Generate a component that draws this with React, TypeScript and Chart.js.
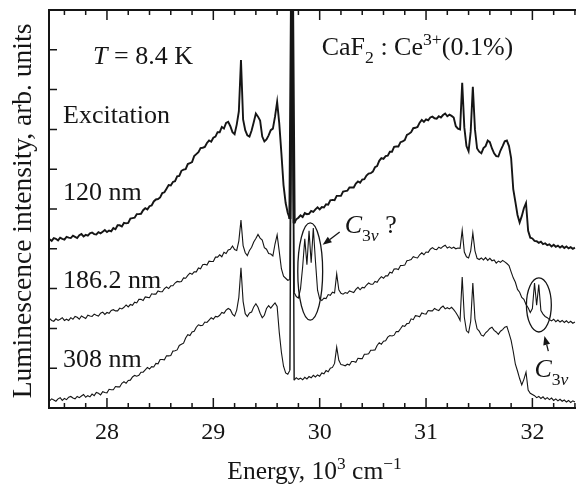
import React, { useEffect, useRef } from 'react';
import { Chart, registerables } from 'chart.js';

Chart.register(...registerables);

// Energy grid, 10^3 cm^-1
const energy = [
  27.46, 27.48, 27.50, 27.52, 27.54, 27.56, 27.58, 27.60, 27.62, 27.64,
  27.66, 27.68, 27.70, 27.72, 27.74, 27.76, 27.78, 27.80, 27.82, 27.84,
  27.86, 27.88, 27.90, 27.92, 27.94, 27.96, 27.98, 28.00, 28.02, 28.04,
  28.06, 28.08, 28.10, 28.12, 28.14, 28.16, 28.18, 28.20, 28.22, 28.24,
  28.26, 28.28, 28.30, 28.32, 28.34, 28.36, 28.38, 28.40, 28.42, 28.44,
  28.46, 28.48, 28.50, 28.52, 28.54, 28.56, 28.58, 28.60, 28.62, 28.64,
  28.66, 28.68, 28.70, 28.72, 28.74, 28.76, 28.78, 28.80, 28.82, 28.84,
  28.86, 28.88, 28.90, 28.92, 28.94, 28.96, 28.98, 29.00, 29.02, 29.04,
  29.06, 29.08, 29.10, 29.12, 29.14, 29.16, 29.18, 29.20, 29.22, 29.24,
  29.26, 29.28, 29.30, 29.32, 29.34, 29.36, 29.38, 29.40, 29.42, 29.44,
  29.46, 29.48, 29.50, 29.52, 29.54, 29.56, 29.58, 29.60, 29.62, 29.64,
  29.66, 29.68, 29.70, 29.72, 29.74, 29.76, 29.78, 29.80, 29.82, 29.84,
  29.86, 29.88, 29.90, 29.92, 29.94, 29.96, 29.98, 30.00, 30.02, 30.04,
  30.06, 30.08, 30.10, 30.12, 30.14, 30.16, 30.18, 30.20, 30.22, 30.24,
  30.26, 30.28, 30.30, 30.32, 30.34, 30.36, 30.38, 30.40, 30.42, 30.44,
  30.46, 30.48, 30.50, 30.52, 30.54, 30.56, 30.58, 30.60, 30.62, 30.64,
  30.66, 30.68, 30.70, 30.72, 30.74, 30.76, 30.78, 30.80, 30.82, 30.84,
  30.86, 30.88, 30.90, 30.92, 30.94, 30.96, 30.98, 31.00, 31.02, 31.04,
  31.06, 31.08, 31.10, 31.12, 31.14, 31.16, 31.18, 31.20, 31.22, 31.24,
  31.26, 31.28, 31.30, 31.32, 31.34, 31.36, 31.38, 31.40, 31.42, 31.44,
  31.46, 31.48, 31.50, 31.52, 31.54, 31.56, 31.58, 31.60, 31.62, 31.64,
  31.66, 31.68, 31.70, 31.72, 31.74, 31.76, 31.78, 31.80, 31.82, 31.84,
  31.86, 31.88, 31.90, 31.92, 31.94, 31.96, 31.98, 32.00, 32.02, 32.04,
  32.06, 32.08, 32.10, 32.12, 32.14, 32.16, 32.18, 32.20, 32.22, 32.24,
  32.26, 32.28, 32.30, 32.32, 32.34, 32.36, 32.38, 32.40,
];

// Excitation 120 nm (top trace)
const exc120 = [
  4.24, 4.20, 4.27, 4.25, 4.21, 4.28, 4.25, 4.23, 4.30, 4.28,
  4.27, 4.33, 4.30, 4.27, 4.34, 4.37, 4.31, 4.35, 4.33, 4.39,
  4.41, 4.37, 4.36, 4.42, 4.39, 4.43, 4.47, 4.42, 4.46, 4.44,
  4.52, 4.49, 4.59, 4.59, 4.56, 4.65, 4.64, 4.65, 4.76, 4.77,
  4.78, 4.87, 4.87, 4.88, 4.97, 5.02, 4.99, 5.07, 5.09, 5.19,
  5.24, 5.25, 5.29, 5.40, 5.42, 5.51, 5.60, 5.59, 5.68, 5.70,
  5.82, 5.83, 5.96, 5.99, 6.00, 6.13, 6.15, 6.18, 6.33, 6.38,
  6.43, 6.53, 6.54, 6.56, 6.66, 6.72, 6.69, 6.79, 6.82, 6.93,
  6.93, 7.06, 7.02, 7.16, 7.19, 7.08, 6.93, 6.88, 7.12, 7.45,
  8.74, 7.25, 6.98, 6.85, 6.82, 6.97, 7.18, 7.40, 7.32, 7.22,
  6.82, 6.70, 6.75, 6.85, 6.98, 7.02, 7.32, 7.69, 7.15, 6.40,
  5.60, 5.15, 4.90, 4.75, 12, 4.64, 4.74, 4.78, 4.84, 4.80,
  4.90, 4.87, 4.88, 4.95, 4.93, 4.99, 5.04, 4.99, 5.05, 5.04,
  5.12, 5.11, 5.22, 5.23, 5.22, 5.33, 5.33, 5.33, 5.44, 5.45,
  5.46, 5.54, 5.54, 5.54, 5.64, 5.69, 5.66, 5.74, 5.75, 5.84,
  5.89, 5.90, 5.94, 6.05, 6.08, 6.21, 6.28, 6.26, 6.33, 6.34,
  6.44, 6.44, 6.56, 6.57, 6.57, 6.68, 6.70, 6.73, 6.86, 6.89,
  6.93, 7.03, 7.04, 7.06, 7.17, 7.24, 7.19, 7.25, 7.23, 7.30,
  7.32, 7.28, 7.27, 7.33, 7.30, 7.36, 7.40, 7.33, 7.37, 7.34,
  7.30, 7.08, 7.02, 7.00, 8.17, 7.05, 6.58, 6.45, 6.95, 8.07,
  7.00, 6.52, 6.44, 6.40, 6.53, 6.58, 6.72, 6.68, 6.52, 6.40,
  6.33, 6.32, 6.47, 6.58, 6.70, 6.72, 6.58, 6.28, 5.50, 5.18,
  4.85, 4.66, 4.82, 5.02, 5.15, 4.45, 4.28, 4.26, 4.20, 4.19,
  4.15, 4.18, 4.12, 4.14, 4.09, 4.11, 4.06, 4.10, 4.05, 4.08,
  4.03, 4.07, 4.02, 4.06, 4.01, 4.04, 4.00, 4.03,
];

// Excitation 186.2 nm (middle trace)
const exc186 = [
  2.25, 2.20, 2.18, 2.24, 2.20, 2.23, 2.27, 2.20, 2.23, 2.20,
  2.27, 2.23, 2.30, 2.28, 2.23, 2.31, 2.28, 2.25, 2.33, 2.31,
  2.30, 2.36, 2.33, 2.31, 2.38, 2.41, 2.35, 2.40, 2.38, 2.45,
  2.47, 2.44, 2.44, 2.51, 2.49, 2.53, 2.59, 2.54, 2.60, 2.58,
  2.66, 2.64, 2.73, 2.73, 2.70, 2.79, 2.78, 2.77, 2.87, 2.86,
  2.86, 2.94, 2.92, 2.92, 3.00, 3.04, 3.00, 3.07, 3.07, 3.14,
  3.18, 3.17, 3.18, 3.27, 3.26, 3.33, 3.39, 3.36, 3.42, 3.42,
  3.52, 3.50, 3.60, 3.61, 3.59, 3.69, 3.68, 3.68, 3.79, 3.79,
  3.85, 3.80, 3.91, 3.88, 3.97, 3.99, 4.07, 3.98, 3.96, 4.20,
  4.72, 4.08, 3.90, 3.83, 3.96, 4.04, 4.17, 4.26, 4.36, 4.27,
  4.22, 4.03, 3.99, 3.88, 3.87, 3.82, 4.12, 4.35, 3.93, 3.50,
  3.31, 3.26, 3.21, 3.23, 12, 2.90, 2.80, 2.76, 3.00, 3.55,
  4.25, 3.60, 4.45, 3.65, 4.52, 3.70, 2.96, 2.74, 2.70, 2.76,
  2.75, 2.85, 2.83, 2.91, 2.89, 3.37, 2.97, 2.88, 2.86, 2.90,
  2.88, 2.94, 2.92, 2.90, 2.98, 3.03, 2.97, 3.03, 3.02, 3.09,
  3.14, 3.11, 3.11, 3.18, 3.16, 3.24, 3.30, 3.26, 3.32, 3.32,
  3.41, 3.39, 3.49, 3.50, 3.48, 3.58, 3.58, 3.59, 3.70, 3.71,
  3.73, 3.80, 3.78, 3.77, 3.85, 3.90, 3.85, 3.92, 3.91, 3.99,
  4.03, 3.99, 3.98, 4.04, 4.01, 4.06, 4.09, 4.02, 4.05, 4.01,
  4.04, 4.00, 4.02, 4.01, 4.47, 3.92, 3.80, 3.77, 3.95, 4.40,
  3.95, 3.76, 3.73, 3.77, 3.72, 3.78, 3.71, 3.76, 3.70, 3.72,
  3.64, 3.69, 3.66, 3.71, 3.67, 3.63, 3.58, 3.42, 3.27, 3.16,
  2.98, 2.91, 2.78, 2.73, 2.60, 2.52, 2.40, 2.50, 3.14, 2.58,
  3.10, 2.45, 2.36, 2.30, 2.27, 2.22, 2.19, 2.23, 2.17, 2.21,
  2.16, 2.20, 2.15, 2.19, 2.14, 2.18, 2.13, 2.16,
];

// Excitation 308 nm (bottom trace)
const exc308 = [
  0.18, 0.23, 0.20, 0.17, 0.23, 0.26, 0.19, 0.24, 0.21, 0.27,
  0.29, 0.25, 0.23, 0.29, 0.26, 0.30, 0.34, 0.27, 0.31, 0.28,
  0.35, 0.31, 0.39, 0.37, 0.33, 0.41, 0.39, 0.38, 0.47, 0.46,
  0.46, 0.54, 0.53, 0.53, 0.62, 0.66, 0.62, 0.69, 0.70, 0.78,
  0.82, 0.80, 0.82, 0.90, 0.90, 0.96, 1.02, 0.98, 1.04, 1.03,
  1.12, 1.11, 1.22, 1.22, 1.21, 1.31, 1.31, 1.32, 1.43, 1.44,
  1.46, 1.57, 1.60, 1.63, 1.76, 1.84, 1.82, 1.91, 1.93, 2.03,
  2.09, 2.07, 2.08, 2.16, 2.15, 2.21, 2.27, 2.23, 2.30, 2.29,
  2.33, 2.40, 2.38, 2.46, 2.50, 2.47, 2.36, 2.31, 2.46, 2.78,
  3.52, 2.68, 2.37, 2.30, 2.39, 2.41, 2.54, 2.62, 2.53, 2.38,
  2.27, 2.33, 2.50, 2.57, 2.51, 2.58, 2.64, 2.55, 1.90, 1.40,
  1.05, 0.88, 0.85, 0.95, 12, 0.70, 0.76, 0.72, 0.75, 0.71,
  0.77, 0.73, 0.79, 0.76, 0.82, 0.78, 0.83, 0.80, 0.88, 0.86,
  0.94, 0.91, 1.00, 1.02, 1.12, 1.53, 1.20, 1.09, 1.08, 1.06,
  1.10, 1.08, 1.17, 1.17, 1.15, 1.25, 1.24, 1.24, 1.35, 1.35,
  1.36, 1.45, 1.45, 1.46, 1.57, 1.64, 1.60, 1.68, 1.69, 1.78,
  1.82, 1.81, 1.83, 1.92, 1.92, 1.99, 2.07, 2.05, 2.12, 2.13,
  2.24, 2.22, 2.32, 2.31, 2.29, 2.39, 2.37, 2.36, 2.45, 2.44,
  2.44, 2.50, 2.47, 2.45, 2.52, 2.56, 2.49, 2.52, 2.49, 2.53,
  2.47, 2.40, 2.31, 2.20, 3.29, 2.28, 1.94, 1.89, 2.18, 3.14,
  2.24, 1.99, 1.93, 1.83, 1.81, 1.89, 1.94, 2.00, 2.03, 1.95,
  1.91, 1.85, 1.93, 1.97, 2.03, 2.05, 1.88, 1.70, 1.42, 1.10,
  0.93, 0.74, 0.58, 0.72, 0.90, 0.45, 0.37, 0.34, 0.31, 0.26,
  0.29, 0.24, 0.28, 0.22, 0.26, 0.21, 0.25, 0.19, 0.23, 0.18,
  0.22, 0.17, 0.20, 0.15, 0.19, 0.14, 0.18, 0.15,
];

const seriesLabels = ['120 nm', '186.2 nm', '308 nm'];
const xMajorTicks = [28, 29, 30, 31, 32];
const xMinorTicks = [27.6, 27.8, 28.2, 28.4, 28.6, 28.8, 29.2, 29.4, 29.6, 29.8, 30.2, 30.4, 30.6, 30.8, 31.2, 31.4, 31.6, 31.8, 32.2, 32.4];
const yTicks = [1, 2, 3, 4, 5, 6, 7, 8, 9];
const xRange = [27.455, 32.41];
const yRange = [0, 10];

const FONT = "'Liberation Serif', 'Times New Roman', Times, serif";
const INK = '#151515';

type Run = { t: string; it?: boolean; sub?: boolean; sup?: boolean };

// Text annotations, anchored in data coordinates (left edge, baseline)
const annotations: { x: number; y: number; runs: Run[] }[] = [
  { x: 27.869, y: 8.64, runs: [{ t: 'T', it: true }, { t: ' = 8.4 K' }] },
  { x: 27.587, y: 7.17, runs: [{ t: 'Excitation' }] },
  { x: 27.587, y: 5.23, runs: [{ t: seriesLabels[0] }] },
  { x: 27.587, y: 3.02, runs: [{ t: seriesLabels[1] }] },
  { x: 27.587, y: 1.04, runs: [{ t: seriesLabels[2] }] },
  { x: 30.019, y: 8.87, runs: [{ t: 'CaF' }, { t: '2', sub: true }, { t: ' : ' }, { t: 'Ce' }, { t: '3+', sup: true }, { t: '(0.1%)' }] },
  { x: 30.235, y: 4.40, runs: [{ t: 'C', it: true }, { t: '3', sub: true }, { t: 'v', sub: true, it: true }, { t: ' ?' }] },
  { x: 32.019, y: 0.78, runs: [{ t: 'C', it: true }, { t: '3', sub: true }, { t: 'v', sub: true, it: true }] },
];

const ellipses = [
  { cx: 29.911, cy: 3.43, rx: 0.117, ry: 1.22 },
  { cx: 32.061, cy: 2.59, rx: 0.117, ry: 0.68 },
];

const arrows = [
  { x1: 30.188, y1: 4.42, x2: 30.028, y2: 4.10 },
  { x1: 32.150, y1: 1.43, x2: 32.113, y2: 1.81 },
];

function setFont(ctx: CanvasRenderingContext2D, r: Run, size: number) {
  const s = r.sub || r.sup ? size * 0.68 : size;
  ctx.font = `${r.it ? 'italic ' : ''}${s}px ${FONT}`;
}

function runsWidth(ctx: CanvasRenderingContext2D, runs: Run[], size: number) {
  let w = 0;
  for (const r of runs) {
    setFont(ctx, r, size);
    w += ctx.measureText(r.t).width;
  }
  return w;
}

function drawRuns(ctx: CanvasRenderingContext2D, x: number, y: number, runs: Run[], size: number) {
  let cx = x;
  for (const r of runs) {
    setFont(ctx, r, size);
    const dy = r.sub ? size * 0.3 : r.sup ? -size * 0.4 : 0;
    ctx.fillText(r.t, cx, y + dy);
    cx += ctx.measureText(r.t).width;
  }
}

const decorPlugin = {
  id: 'decor',
  afterDraw(chart: any) {
    const { ctx, chartArea: ca, scales } = chart;
    const xs = scales.x;
    const ys = scales.y;
    ctx.save();
    // inward ticks
    ctx.strokeStyle = INK;
    ctx.lineWidth = 1.5;
    ctx.beginPath();
    for (const v of xMajorTicks) {
      const p = xs.getPixelForValue(v);
      ctx.moveTo(p, ca.bottom);
      ctx.lineTo(p, ca.bottom - 10);
      ctx.moveTo(p, ca.top);
      ctx.lineTo(p, ca.top + 10);
    }
    for (const v of xMinorTicks) {
      const p = xs.getPixelForValue(v);
      ctx.moveTo(p, ca.bottom);
      ctx.lineTo(p, ca.bottom - 5);
      ctx.moveTo(p, ca.top);
      ctx.lineTo(p, ca.top + 5);
    }
    for (const v of yTicks) {
      const p = ys.getPixelForValue(v);
      ctx.moveTo(ca.left, p);
      ctx.lineTo(ca.left + 8, p);
    }
    ctx.stroke();

    // ellipses
    ctx.lineWidth = 1.3;
    for (const e of ellipses) {
      const cx = xs.getPixelForValue(e.cx);
      const cy = ys.getPixelForValue(e.cy);
      const rx = Math.abs(xs.getPixelForValue(e.cx + e.rx) - cx);
      const ry = Math.abs(ys.getPixelForValue(e.cy + e.ry) - cy);
      ctx.beginPath();
      ctx.ellipse(cx, cy, rx, ry, 0, 0, Math.PI * 2);
      ctx.stroke();
    }

    // arrows
    ctx.fillStyle = INK;
    for (const a of arrows) {
      const x1 = xs.getPixelForValue(a.x1);
      const y1 = ys.getPixelForValue(a.y1);
      const x2 = xs.getPixelForValue(a.x2);
      const y2 = ys.getPixelForValue(a.y2);
      const ang = Math.atan2(y2 - y1, x2 - x1);
      const hl = 9;
      const hw = 3.5;
      const bx = x2 - hl * Math.cos(ang);
      const by = y2 - hl * Math.sin(ang);
      ctx.beginPath();
      ctx.moveTo(x1, y1);
      ctx.lineTo(bx, by);
      ctx.stroke();
      ctx.beginPath();
      ctx.moveTo(x2, y2);
      ctx.lineTo(bx + hw * Math.sin(ang), by - hw * Math.cos(ang));
      ctx.lineTo(bx - hw * Math.sin(ang), by + hw * Math.cos(ang));
      ctx.closePath();
      ctx.fill();
    }

    // text annotations
    ctx.textBaseline = 'alphabetic';
    ctx.textAlign = 'left';
    for (const an of annotations) {
      drawRuns(ctx, xs.getPixelForValue(an.x), ys.getPixelForValue(an.y), an.runs, 26);
    }

    // axis titles
    const xTitle: Run[] = [{ t: 'Energy, 10' }, { t: '3', sup: true }, { t: ' cm' }, { t: '\u22121', sup: true }];
    const size = 25.5;
    const w = runsWidth(ctx, xTitle, size);
    drawRuns(ctx, (ca.left + ca.right) / 2 + 2 - w / 2, ca.bottom + 71, xTitle, size);

    ctx.translate(31, (ca.top + ca.bottom) / 2 + 2);
    ctx.rotate(-Math.PI / 2);
    ctx.font = `27.5px ${FONT}`;
    ctx.textAlign = 'center';
    ctx.fillText('Luminescence intensity, arb. units', 0, 0);
    ctx.restore();
  },
};

export default function App() {
  const canvasRef = useRef<HTMLCanvasElement | null>(null);

  useEffect(() => {
    const canvas = canvasRef.current;
    if (!canvas) return;
    const series = [exc120, exc186, exc308];
    const widths = [1.9, 1.1, 1.1];
    const spikeWidths = [3, 1.4, 1.4];
    const chart = new Chart(canvas, {
      type: 'line',
      data: {
        datasets: series.map((s, k) => ({
          label: seriesLabels[k],
          data: energy.map((x, i) => ({ x, y: s[i] })),
          borderColor: INK,
          borderWidth: widths[k],
          pointRadius: 0,
          tension: 0,
          fill: false,
          segment: {
            borderWidth: (c: any) =>
              s[c.p0DataIndex] > yRange[1] || s[c.p1DataIndex] > yRange[1] ? spikeWidths[k] : undefined,
          },
        })),
      },
      options: {
        animation: false,
        responsive: false,
        devicePixelRatio: 1,
        layout: { padding: 0 },
        plugins: {
          legend: { display: false },
          tooltip: { enabled: false },
          title: { display: false },
        },
        scales: {
          x: {
            type: 'linear',
            position: 'bottom',
            min: xRange[0],
            max: xRange[1],
            ticks: {
              stepSize: 1,
              includeBounds: false,
              color: INK,
              font: { family: FONT, size: 24 },
              padding: 10,
              maxRotation: 0,
              autoSkip: false,
            },
            grid: { display: false, drawTicks: false },
            border: { display: true, color: INK, width: 2 },
            afterFit: (s: any) => { s.height = 77; },
          },
          xTop: {
            type: 'linear',
            position: 'top',
            min: xRange[0],
            max: xRange[1],
            ticks: { display: false },
            grid: { display: false, drawTicks: false },
            border: { display: true, color: INK, width: 2 },
            afterFit: (s: any) => { s.height = 10; },
          },
          y: {
            type: 'linear',
            min: yRange[0],
            max: yRange[1],
            ticks: { display: false },
            grid: { display: false, drawTicks: false },
            border: { display: true, color: INK, width: 2 },
            afterFit: (s: any) => { s.width = 49; },
          },
        },
      } as any,
      plugins: [decorPlugin],
    });
    return () => chart.destroy();
  }, []);

  return (
    <div style={{ position: 'absolute', left: 0, top: 0, width: 576, height: 485, background: '#fff' }}>
      <canvas ref={canvasRef} width={576} height={485} style={{ display: 'block' }} />
    </div>
  );
}
